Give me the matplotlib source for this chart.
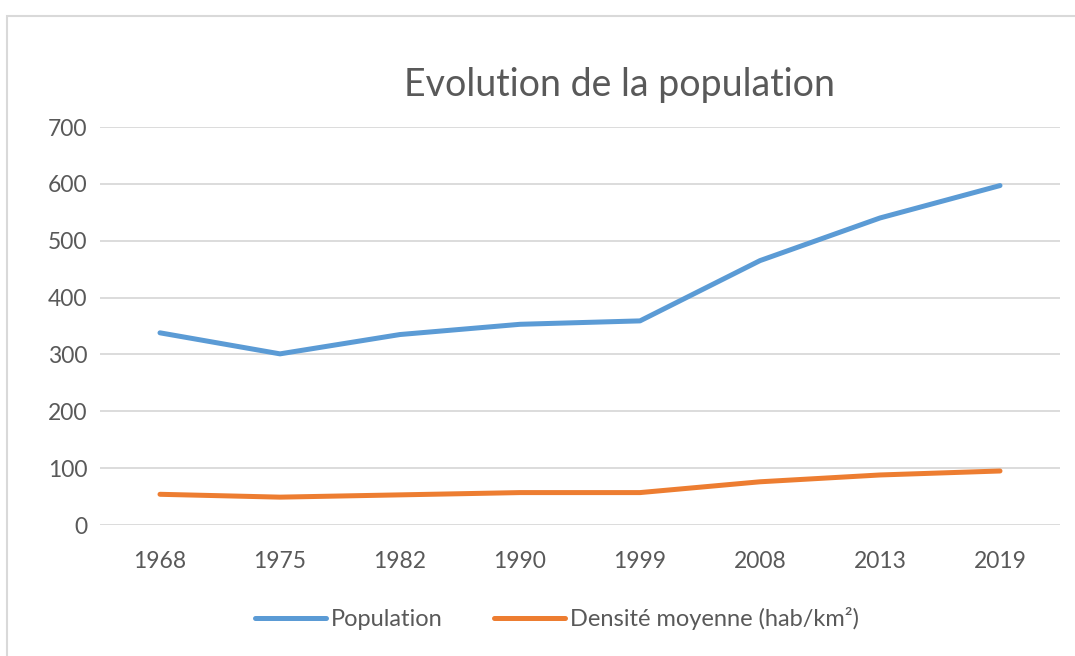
import matplotlib
matplotlib.use("Agg")
import matplotlib.pyplot as plt
from matplotlib.patches import Rectangle

years = ["1968", "1975", "1982", "1990", "1999", "2008", "2013", "2019"]
population = [338, 301, 335, 353, 359, 465, 540, 597]
densite = [54, 49, 53, 57, 57, 76, 88, 95]
yticks = [0, 100, 200, 300, 400, 500, 600, 700]

blue = "#5B9BD5"
orange = "#ED7D31"
grey_txt = "#595959"

plt.rcParams['font.family'] = ['Lato', 'DejaVu Sans']

fig = plt.figure(figsize=(10.75, 6.56), dpi=100)
# chart frame (cut by the image edges on the right and bottom)
fig.patches.append(Rectangle((7 / 1075, -0.1), 1.2, 1 - 16 / 656 + 0.1,
                             transform=fig.transFigure, fill=False,
                             edgecolor="#D9D9D9", linewidth=1.5))

ax = fig.add_axes([100 / 1075, 1 - 525 / 656, 960 / 1075, 398 / 656])
x = range(len(years))
ax.plot(x, population, color=blue, lw=3.6, solid_capstyle="round",
        solid_joinstyle="round", label="Population")
ax.plot(x, densite, color=orange, lw=3.6, solid_capstyle="round",
        solid_joinstyle="round", label="Densité moyenne (hab/km²)")

ax.set_xlim(-0.5, len(years) - 0.5)
ax.set_ylim(0, 700)
ax.set_yticks(yticks)
ax.set_xticks(list(x))
ax.set_xticklabels(years)
ax.yaxis.grid(True, color="#D9D9D9", lw=1.3)
ax.set_axisbelow(True)
for s in ax.spines.values():
    s.set_visible(False)
ax.tick_params(length=0, labelsize=16.5, colors=grey_txt, pad=9)
ax.tick_params(axis="x", pad=19)

fig.text(620 / 1075, 1 - 85 / 656, "Evolution de la population",
         ha="center", va="center", fontsize=27, color=grey_txt)

fig.legend(loc="center", bbox_to_anchor=(557 / 1075, 1 - 619 / 656),
           ncol=2, frameon=False, fontsize=17, handlelength=3.0,
           handletextpad=0.2, columnspacing=2.2, labelcolor=grey_txt)

fig.savefig("out.png", dpi=100)
